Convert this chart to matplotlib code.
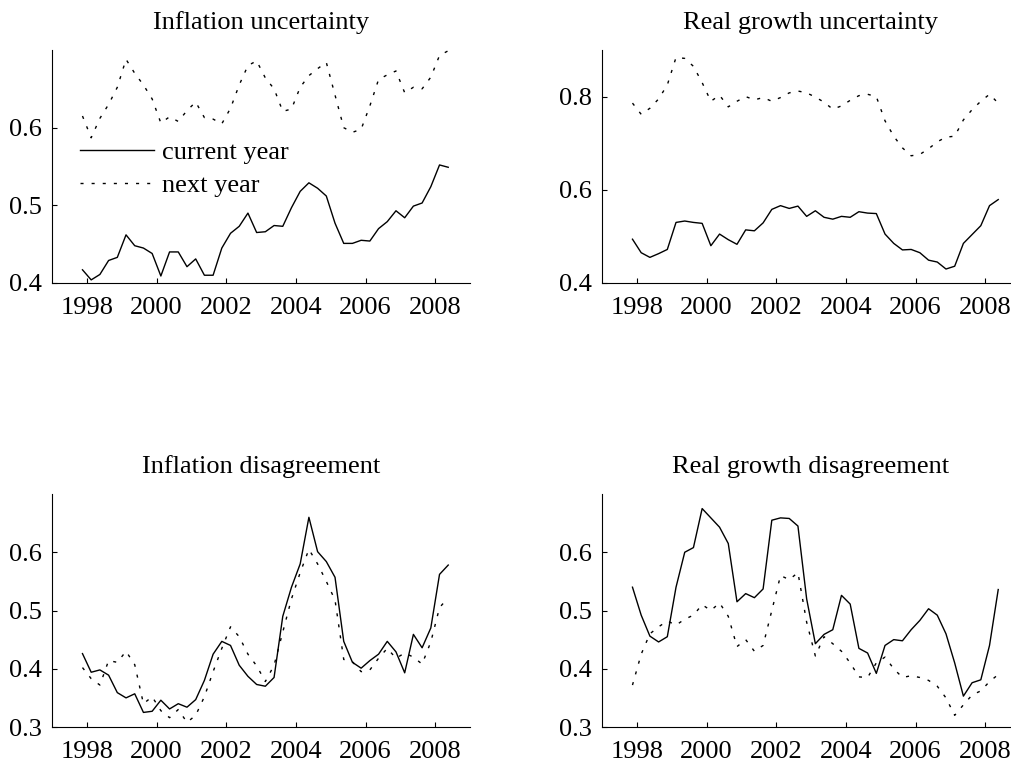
import numpy as np
import matplotlib
matplotlib.use("Agg")
import matplotlib.pyplot as plt

plt.rcParams["font.family"] = ["Liberation Serif", "DejaVu Serif"]
plt.rcParams["font.size"] = 19

# quarterly observations, first one in late 1997
start_year = 1997.875
n_quarters = 43

infl_unc_cur = [0.417, 0.404, 0.411, 0.429, 0.433, 0.462, 0.448, 0.445, 0.438, 0.409, 0.440,
                0.440, 0.421, 0.431, 0.410, 0.410, 0.445, 0.464, 0.473, 0.490, 0.465, 0.466,
                0.474, 0.473, 0.497, 0.518, 0.529, 0.522, 0.512, 0.477, 0.451, 0.451, 0.455,
                0.454, 0.470, 0.479, 0.493, 0.484, 0.499, 0.503, 0.524, 0.552, 0.549]
infl_unc_next = [0.615, 0.587, 0.612, 0.630, 0.652, 0.688, 0.670, 0.655, 0.637, 0.606, 0.614,
                 0.608, 0.622, 0.633, 0.613, 0.611, 0.605, 0.625, 0.655, 0.680, 0.686, 0.664,
                 0.650, 0.621, 0.624, 0.652, 0.667, 0.676, 0.684, 0.642, 0.600, 0.594, 0.598,
                 0.628, 0.662, 0.668, 0.673, 0.645, 0.652, 0.650, 0.665, 0.693, 0.699]

growth_unc_cur = [0.494, 0.465, 0.455, 0.463, 0.472, 0.530, 0.533, 0.530, 0.528, 0.480, 0.505,
                  0.493, 0.483, 0.514, 0.512, 0.529, 0.558, 0.566, 0.560, 0.565, 0.543, 0.555,
                  0.541, 0.537, 0.543, 0.541, 0.553, 0.550, 0.549, 0.505, 0.485, 0.471, 0.472,
                  0.465, 0.449, 0.445, 0.430, 0.436, 0.485, 0.504, 0.523, 0.566, 0.579]
growth_unc_next = [0.786, 0.762, 0.775, 0.795, 0.825, 0.884, 0.882, 0.865, 0.830, 0.790, 0.803,
                   0.778, 0.790, 0.800, 0.793, 0.798, 0.790, 0.798, 0.808, 0.812, 0.808, 0.799,
                   0.788, 0.773, 0.780, 0.792, 0.802, 0.805, 0.800, 0.748, 0.715, 0.690, 0.673,
                   0.676, 0.688, 0.703, 0.713, 0.715, 0.750, 0.772, 0.790, 0.805, 0.786]

infl_dis_cur = [0.426, 0.394, 0.398, 0.389, 0.359, 0.350, 0.357, 0.325, 0.327, 0.346, 0.331,
                0.340, 0.334, 0.347, 0.380, 0.425, 0.447, 0.440, 0.406, 0.387, 0.373, 0.370,
                0.385, 0.490, 0.540, 0.580, 0.660, 0.601, 0.584, 0.557, 0.447, 0.411, 0.401,
                0.414, 0.425, 0.447, 0.429, 0.393, 0.459, 0.436, 0.470, 0.562, 0.578]
infl_dis_next = [0.402, 0.383, 0.372, 0.414, 0.411, 0.430, 0.407, 0.340, 0.352, 0.328, 0.316,
                 0.330, 0.308, 0.320, 0.352, 0.395, 0.435, 0.472, 0.455, 0.425, 0.405, 0.378,
                 0.406, 0.463, 0.520, 0.565, 0.605, 0.580, 0.550, 0.518, 0.416, 0.412, 0.395,
                 0.398, 0.418, 0.435, 0.418, 0.427, 0.420, 0.408, 0.446, 0.505, 0.522]

growth_dis_cur = [0.540, 0.492, 0.456, 0.446, 0.455, 0.540, 0.600, 0.608, 0.675, 0.659, 0.643,
                  0.615, 0.515, 0.529, 0.522, 0.537, 0.655, 0.659, 0.658, 0.645, 0.520, 0.443,
                  0.459, 0.467, 0.526, 0.511, 0.435, 0.427, 0.392, 0.440, 0.450, 0.448, 0.467,
                  0.483, 0.503, 0.492, 0.460, 0.410, 0.353, 0.376, 0.381, 0.440, 0.536]
growth_dis_next = [0.372, 0.425, 0.460, 0.472, 0.482, 0.475, 0.485, 0.492, 0.510, 0.500, 0.513,
                   0.490, 0.438, 0.450, 0.430, 0.440, 0.500, 0.560, 0.553, 0.565, 0.480, 0.422,
                   0.455, 0.443, 0.430, 0.410, 0.386, 0.385, 0.410, 0.420, 0.400, 0.385, 0.388,
                   0.385, 0.380, 0.370, 0.350, 0.320, 0.338, 0.355, 0.362, 0.378, 0.390]

titles = ["Inflation uncertainty", "Real growth uncertainty",
          "Inflation disagreement", "Real growth disagreement"]
ylims = [(0.4, 0.7), (0.4, 0.9), (0.3, 0.7), (0.3, 0.7)]
yticks = [[0.4, 0.5, 0.6], [0.4, 0.6, 0.8], [0.3, 0.4, 0.5, 0.6], [0.3, 0.4, 0.5, 0.6]]
xticks = [1998, 2000, 2002, 2004, 2006, 2008]
labels = ["current year", "next year"]

W, H = 1012, 762
# axes boxes in pixels: left, top, right, bottom
boxes = [(52, 50, 470, 283), (602, 50, 1020, 283),
         (52, 494, 470, 727), (602, 494, 1020, 727)]

t = start_year + 0.25 * np.arange(n_quarters)
series = [(infl_unc_cur, infl_unc_next), (growth_unc_cur, growth_unc_next),
          (infl_dis_cur, infl_dis_next), (growth_dis_cur, growth_dis_next)]

fig = plt.figure(figsize=(W / 100, H / 100), dpi=100)
dots = (0, (2.2, 5.8))
for i, (l, tp, r, b) in enumerate(boxes):
    ax = fig.add_axes([l / W, 1 - b / H, (r - l) / W, (b - tp) / H])
    cur, nxt = series[i]
    ax.plot(t, cur, color="black", lw=1.0, label=labels[0])
    ax.plot(t, nxt, color="black", lw=1.0, linestyle=dots, label=labels[1])
    ax.set_xlim(1997, 2009)
    ax.set_ylim(*ylims[i])
    ax.set_xticks(xticks)
    ax.set_yticks(yticks[i])
    ax.yaxis.set_major_formatter(matplotlib.ticker.FormatStrFormatter("%.1f"))
    for s in ["top", "right"]:
        ax.spines[s].set_visible(False)
    ax.tick_params(direction="in", length=3.5, width=0.8)
    ax.tick_params(axis="x", pad=10)
    ax.tick_params(axis="y", pad=7)
    ax.set_title(titles[i], pad=15, fontsize=19)
    if i == 0:
        ax.legend(loc="upper left", bbox_to_anchor=(0.068, 0.61), frameon=False,
                  handlelength=2.8, handletextpad=0.3, labelspacing=0.35,
                  borderaxespad=0, borderpad=0)

fig.savefig("out.png", dpi=100)
